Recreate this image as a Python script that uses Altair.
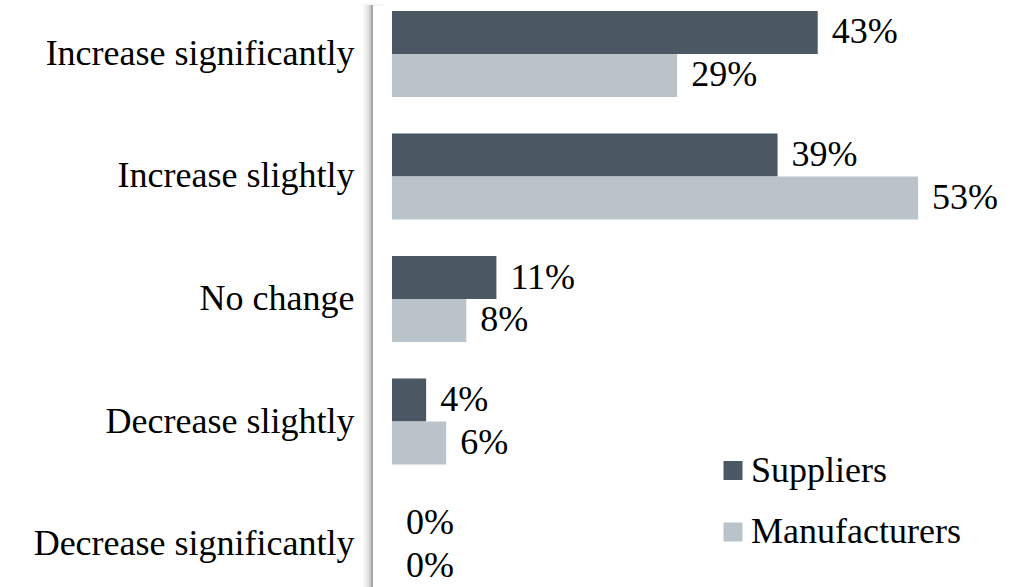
import altair as alt
import pandas as pd

# Survey responses: expected change, suppliers vs. manufacturers
responses = [
    "Increase significantly",
    "Increase slightly",
    "No change",
    "Decrease slightly",
    "Decrease significantly",
]
groups = ["Suppliers", "Manufacturers"]
suppliers = [43, 39, 11, 4, 0]
manufacturers = [29, 53, 8, 6, 0]
colors = ["#4b5863", "#b9c3c9"]

rows = []
for resp, s, m in zip(responses, suppliers, manufacturers):
    rows.append({"response": resp, "group": "Suppliers", "pct": s})
    rows.append({"response": resp, "group": "Manufacturers", "pct": m})
df = pd.DataFrame(rows)
df["label"] = df["pct"].astype(str) + "%"

FONT = "'Liberation Serif', 'Times New Roman', serif"
FS = 36

y = alt.Y(
    "response:N",
    sort=responses,
    scale=alt.Scale(paddingInner=0.298, paddingOuter=0),
    axis=alt.Axis(
        title=None, domain=False, ticks=False, grid=False,
        labelFont=FONT, labelFontSize=FS, labelColor="black",
        labelPadding=38, labelLimit=500,
    ),
)
y_off = alt.YOffset("group:N", sort=groups,
                    scale=alt.Scale(paddingInner=0, paddingOuter=0))
# value axis starts just above zero; bars are clamped at the left edge
x = alt.X("pct:Q", scale=alt.Scale(domain=[0.6, 62.75], clamp=True, zero=False),
          axis=None)

bars = alt.Chart(df).mark_bar().encode(
    x=x,
    y=y,
    yOffset=y_off,
    color=alt.Color(
        "group:N",
        sort=groups,
        scale=alt.Scale(domain=groups, range=colors),
        legend=alt.Legend(
            title=None, orient="none", legendX=323, legendY=441.5,
            symbolType="square", symbolSize=361, symbolStrokeWidth=0,
            symbolOpacity=1, labelFont=FONT, labelFontSize=FS,
            labelColor="black", labelOffset=0, rowPadding=25.5,
            labelLimit=400,
        ),
    ),
)

labels = alt.Chart(df).mark_text(
    align="left", baseline="middle", dx=14, font=FONT, fontSize=FS, color="black"
).encode(x=x, y=y, yOffset=y_off, text="label")

# Vertical axis line with a soft shadow on its left
one = pd.DataFrame({"k": [0]})
shadow_steps = [(-28, "#f6f6f6"), (-26, "#eeeeee"), (-24, "#e2e2e2"),
                (-22, "#cccccc"), (-20, "#a6a6a6")]
axis_line = [
    alt.Chart(one).mark_rule(color=c, strokeWidth=2).encode(
        x=alt.value(px), y=alt.value(-6), y2=alt.value(580)
    )
    for px, c in shadow_steps
]
top_edge = alt.Chart(one).mark_rule(color="#eeeeee", strokeWidth=1).encode(
    x=alt.value(-30), x2=alt.value(-8), y=alt.value(-6)
)

chart = alt.layer(top_edge, *axis_line, bars, labels).properties(
    width=624,
    height=576,
    autosize=alt.AutoSizeParams(type="none"),
    padding={"left": 392, "top": 11, "right": 0, "bottom": 0},
    background="white",
).configure_view(stroke=None)

chart.save("out.html", embed_options={"renderer": "svg", "actions": False})
